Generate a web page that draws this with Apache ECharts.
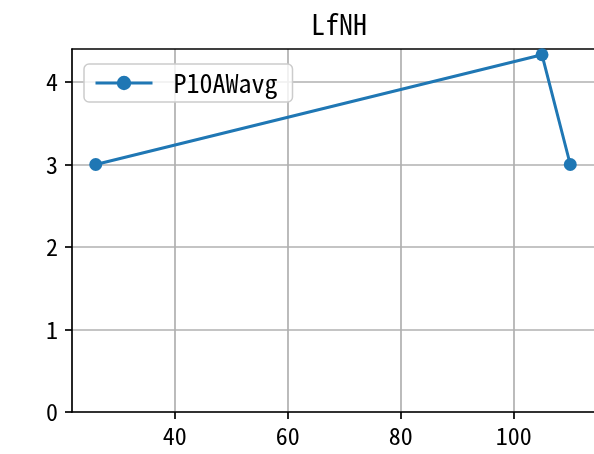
<!DOCTYPE html>
<html>
<head>
<meta charset="utf-8">
<script src="https://cdn.jsdelivr.net/npm/echarts@6/dist/echarts.min.js"></script>
<style>
html,body{margin:0;padding:0;background:#fff;}
#chart{width:594px;height:454px;}
</style>
</head>
<body>
<div id="chart"></div>
<script>
const chartTitle = 'LfNH';
const seriesName = 'P10AWavg';
const xValues = [26, 105, 110];
const yValues = [3, 4.33, 3];
const xTicks = [40, 60, 80, 100];
const yTicks = [0, 1, 2, 3, 4];

const FONT = '"Noto Sans Mono CJK JP", "Liberation Mono", monospace';
const BLUE = '#1f77b4';

const chart = echarts.init(document.getElementById('chart'), null, {renderer: 'canvas'});
chart.setOption({
  animation: false,
  backgroundColor: '#fff',
  title: {
    text: chartTitle,
    left: 334,
    textAlign: 'center',
    top: 5,
    textStyle: {fontFamily: FONT, fontSize: 28, fontWeight: 'normal', color: '#000'}
  },
  legend: {
    left: 84,
    top: 64,
    orient: 'vertical',
    itemWidth: 57,
    itemHeight: 18,
    padding: [6, 15, 6, 10],
    borderColor: '#cccccc',
    borderWidth: 1.5,
    borderRadius: 5,
    backgroundColor: 'rgba(255,255,255,0.8)',
    lineStyle: {width: 3},
    textStyle: {fontFamily: FONT, fontSize: 26, color: '#000', padding: [0, 0, 0, 16]},
    data: [seriesName]
  },
  grid: {left: 72, top: 49, width: 524.5, height: 363, containLabel: false},
  xAxis: [{
    type: 'value',
    min: 21.8,
    max: 114.2,
    axisLine: {show: true, onZero: false, lineStyle: {color: '#000', width: 1.7}},
    axisTick: {show: true, customValues: xTicks, length: 7, inside: false, lineStyle: {color: '#000', width: 1.7}},
    axisLabel: {customValues: xTicks, margin: 12, fontFamily: FONT, fontSize: 24, color: '#000'},
    splitLine: {show: true, lineStyle: {color: '#b0b0b0', width: 1.7}}
  }, {
    type: 'value',
    position: 'top',
    min: 21.8,
    max: 114.2,
    axisLine: {show: true, onZero: false, lineStyle: {color: '#000', width: 1.7}},
    axisTick: {show: false},
    axisLabel: {show: false},
    splitLine: {show: false}
  }],
  yAxis: {
    type: 'value',
    min: 0,
    max: 4.4,
    interval: 1,
    axisLine: {show: true, onZero: false, lineStyle: {color: '#000', width: 1.7}},
    axisTick: {show: true, customValues: yTicks, length: 7, lineStyle: {color: '#000', width: 1.7}},
    axisLabel: {customValues: yTicks, margin: 14, fontFamily: FONT, fontSize: 24, color: '#000'},
    splitLine: {show: true, lineStyle: {color: '#b0b0b0', width: 1.7}}
  },
  series: [{
    name: seriesName,
    type: 'line',
    xAxisIndex: 0,
    data: xValues.map((x, i) => [x, yValues[i]]),
    symbol: 'circle',
    symbolSize: 13,
    showSymbol: true,
    clip: false,
    itemStyle: {color: BLUE},
    lineStyle: {color: BLUE, width: 3}
  }]
});
</script>
</body>
</html>
